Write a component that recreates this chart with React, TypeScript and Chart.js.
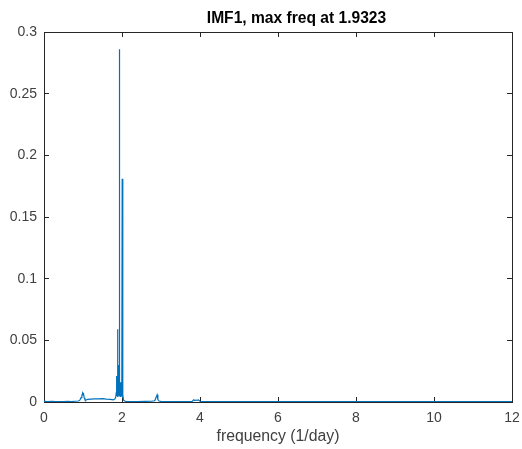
import React, { useEffect, useRef } from "react";
import { Chart, registerables } from "chart.js";

Chart.register(...registerables);

const titleText = "IMF1, max freq at 1.9323";
const xLabel = "frequency (1/day)";
const xTicks = [0, 2, 4, 6, 8, 10, 12];
const yTicks = [0, 0.05, 0.1, 0.15, 0.2, 0.25, 0.3];

const freqs = [
  0, 0.02, 0.1, 0.2, 0.3, 0.4, 0.5, 0.6, 0.7, 0.8, 0.88, 0.92, 0.95, 0.97, 0.99,
  1.0, 1.01, 1.03, 1.05, 1.08, 1.12, 1.2, 1.3, 1.4, 1.5, 1.6, 1.7, 1.78, 1.82,
  1.84, 1.855, 1.86, 1.865, 1.875, 1.885, 1.89, 1.895, 1.905, 1.91, 1.915, 1.925,
  1.9323, 1.94, 1.95, 1.96, 1.97, 1.985, 1.995, 2.005, 2.015, 2.025, 2.04, 2.07,
  2.1, 2.2, 2.4, 2.6, 2.75, 2.84, 2.87, 2.9, 2.92, 2.95, 3.0, 3.2, 3.5, 3.8, 3.84,
  3.87, 3.9, 3.93, 3.96, 4.0, 4.1, 4.5, 5.0, 5.5, 6.0, 6.5, 7.0, 7.5, 8.0, 8.5,
  9.0, 9.5, 10.0, 10.5, 11.0, 11.5, 12.0,
];

const power = [
  0.0012, 0.0004, 0.0003, 0.0005, 0.0003, 0.0004, 0.0003, 0.0005, 0.0004, 0.0006,
  0.0008, 0.0015, 0.0035, 0.005, 0.0072, 0.0058, 0.0075, 0.0035, 0.0018, 0.0016,
  0.0022, 0.0024, 0.0026, 0.0025, 0.0027, 0.0024, 0.0022, 0.0018, 0.0025, 0.004,
  0.008, 0.021, 0.005, 0.009, 0.004, 0.059, 0.012, 0.006, 0.03, 0.008, 0.005,
  0.286, 0.006, 0.012, 0.004, 0.016, 0.005, 0.008, 0.181, 0.003, 0.006, 0.0015,
  0.0008, 0.0005, 0.0004, 0.0003, 0.0005, 0.0006, 0.001, 0.0035, 0.0058, 0.002,
  0.0008, 0.0005, 0.0003, 0.0004, 0.0005, 0.0018, 0.0012, 0.0016, 0.0014, 0.0017,
  0.0006, 0.0004, 0.0003, 0.0004, 0.0003, 0.0004, 0.0003, 0.0004, 0.0003, 0.0004,
  0.0003, 0.0004, 0.0003, 0.0004, 0.0003, 0.0004, 0.0003, 0.0003,
];

const axisColor = "#262626";
const labelColor = "#404040";
const lineColor = "#0072BD";
const fontFamily = "'Liberation Sans', Arial, Helvetica, sans-serif";

const titlePlugin = {
  id: "matlabTitle",
  afterDraw(chart: any) {
    const ctx = chart.ctx;
    ctx.save();
    ctx.fillStyle = "#000000";
    ctx.font = "bold 15.6px " + fontFamily;
    ctx.textAlign = "center";
    ctx.fillText(titleText, 296.5, 23);
    ctx.restore();
  },
};

const frameGrid = {
  display: true,
  drawOnChartArea: false,
  drawTicks: true,
  tickLength: -5,
  color: axisColor,
  lineWidth: 1,
};
const frameBorder = { display: true, color: axisColor, width: 1 };

export default function App() {
  const ref = useRef<HTMLCanvasElement>(null);

  useEffect(() => {
    if (!ref.current) return;
    const data = freqs.map((f, i) => ({ x: f, y: power[i] }));
    const chart = new Chart(ref.current, {
      type: "line",
      data: {
        datasets: [
          {
            data,
            borderColor: lineColor,
            borderWidth: 1.2,
            pointRadius: 0,
            fill: false,
            tension: 0,
            xAxisID: "x",
            yAxisID: "y",
          },
        ],
      },
      options: {
        animation: false,
        responsive: false,
        devicePixelRatio: 1,
        layout: { padding: { left: 0, right: 10, top: 32, bottom: 0 } },
        plugins: {
          legend: { display: false },
          tooltip: { enabled: false },
          title: { display: false },
        },
        scales: {
          x: {
            type: "linear",
            position: "bottom",
            min: 0,
            max: 12,
            grid: frameGrid,
            border: frameBorder,
            afterBuildTicks: (s: any) => {
              s.ticks = xTicks.map((v) => ({ value: v }));
            },
            afterFit: (s: any) => {
              s.height = 47;
              s.paddingLeft = 0;
              s.paddingRight = 0;
            },
            ticks: {
              color: labelColor,
              font: { family: fontFamily, size: 14 },
              padding: 13,
              maxRotation: 0,
              autoSkip: false,
              callback: (v: any) => String(v),
            },
            title: {
              display: true,
              text: xLabel,
              color: labelColor,
              font: { family: fontFamily, size: 15.8 },
              padding: { top: 0, bottom: 2.5 },
            },
          },
          x2: {
            type: "linear",
            axis: "x",
            position: "top",
            min: 0,
            max: 12,
            grid: frameGrid,
            border: frameBorder,
            afterBuildTicks: (s: any) => {
              s.ticks = xTicks.map((v) => ({ value: v }));
            },
            afterFit: (s: any) => {
              s.height = 0;
              s.paddingLeft = 0;
              s.paddingRight = 0;
            },
            ticks: { display: false },
          },
          y: {
            type: "linear",
            position: "left",
            min: 0,
            max: 0.3,
            grid: frameGrid,
            border: frameBorder,
            afterBuildTicks: (s: any) => {
              s.ticks = yTicks.map((v) => ({ value: v }));
            },
            afterFit: (s: any) => {
              s.width = 44;
              s.paddingTop = 0;
              s.paddingBottom = 0;
            },
            ticks: {
              color: labelColor,
              font: { family: fontFamily, size: 14 },
              padding: 12,
              autoSkip: false,
              callback: (v: any) => String(Number(Number(v).toFixed(2))),
            },
          },
          y2: {
            type: "linear",
            axis: "y",
            position: "right",
            min: 0,
            max: 0.3,
            grid: frameGrid,
            border: frameBorder,
            afterBuildTicks: (s: any) => {
              s.ticks = yTicks.map((v) => ({ value: v }));
            },
            afterFit: (s: any) => {
              s.width = 0;
              s.paddingTop = 0;
              s.paddingBottom = 0;
            },
            ticks: { display: false },
          },
        },
      },
      plugins: [titlePlugin],
    });
    return () => chart.destroy();
  }, []);

  return (
    <div style={{ position: "absolute", left: 0, top: 0, width: 522, height: 449, background: "#ffffff" }}>
      <canvas ref={ref} width={522} height={449} style={{ display: "block" }} />
    </div>
  );
}
